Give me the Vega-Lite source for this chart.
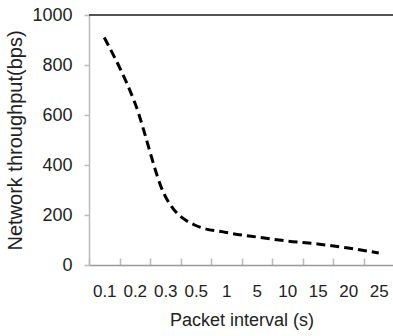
{
  "$schema": "https://vega.github.io/schema/vega-lite/v6.json",
  "autosize": "none",
  "padding": {"left": 89, "top": 15, "right": 0, "bottom": 71},
  "width": 305,
  "height": 250,
  "background": "white",
  "config": {
    "view": {"stroke": null},
    "font": "Liberation Sans",
    "axis": {"labelFont": "Liberation Sans", "titleFont": "Liberation Sans", "labelColor": "#222", "titleColor": "#222", "titleFontWeight": "normal"}
  },
  "data": {
    "values": [
      {"interval": "0.1", "throughput": 910},
      {"interval": "0.2", "throughput": 650},
      {"interval": "0.3", "throughput": 275},
      {"interval": "0.5", "throughput": 158},
      {"interval": "1", "throughput": 130},
      {"interval": "5", "throughput": 112},
      {"interval": "10", "throughput": 96},
      {"interval": "15", "throughput": 84},
      {"interval": "20", "throughput": 68},
      {"interval": "25", "throughput": 48}
    ]
  },
  "layer": [
    {
      "mark": {"type": "rule", "color": "#555", "strokeWidth": 1.5},
      "encoding": {"y": {"datum": 1000, "type": "quantitative"}}
    },
    {
      "mark": {"type": "line", "color": "black", "strokeWidth": 3, "strokeDash": [9, 5], "interpolate": "monotone"},
      "encoding": {
        "x": {
          "field": "interval", "type": "ordinal", "sort": null,
          "scale": {"type": "band", "paddingInner": 0, "paddingOuter": 0},
          "axis": {
            "title": "Packet interval (s)", "titleFontSize": 18, "titlePadding": 12,
            "labelFontSize": 17, "labelAngle": 0, "labelPadding": 25,
            "tickBand": "extent", "tickSize": -7, "tickColor": "#bbb", "tickWidth": 1.5,
            "domainColor": "#999", "domainWidth": 1.5
          }
        },
        "y": {
          "field": "throughput", "type": "quantitative",
          "scale": {"domain": [0, 1000]},
          "axis": {
            "title": "Network throughput(bps)", "titleFontSize": 20, "titlePadding": 6,
            "values": [0, 200, 400, 600, 800, 1000], "format": "d",
            "labelFontSize": 18, "labelPadding": 12, "grid": false,
            "tickSize": 5, "tickColor": "#bbb", "tickWidth": 1.5,
            "domainColor": "#bbb", "domainWidth": 1.5
          }
        }
      }
    }
  ]
}
